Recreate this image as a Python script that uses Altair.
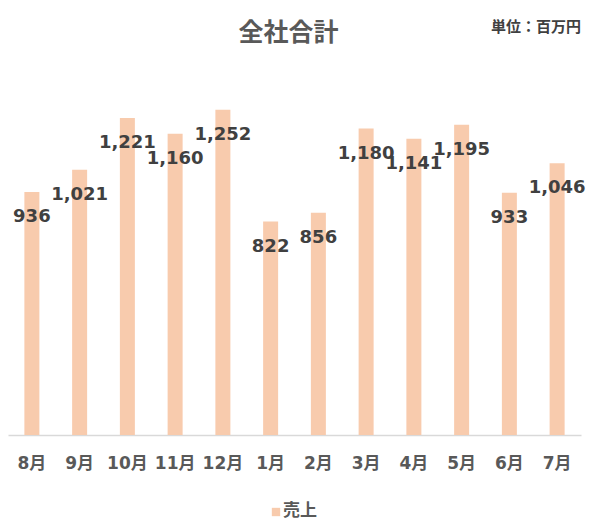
import altair as alt
import pandas as pd

months = ["8月", "9月", "10月", "11月", "12月", "1月", "2月", "3月", "4月", "5月", "6月", "7月"]
sales = [936, 1021, 1221, 1160, 1252, 822, 856, 1180, 1141, 1195, 933, 1046]
title_text = "全社合計"
unit_text = "単位：百万円"
legend_text = "売上"

df = pd.DataFrame({"month": months, "sales": sales})

FONT = "DejaVu Sans, Noto Sans CJK JP"
W, H = 573, 375

x = alt.X("month:N", sort=months, title=None,
          scale=alt.Scale(paddingInner=0.68, paddingOuter=0.34),
          axis=alt.Axis(labelAngle=0, labelFont=FONT, labelFontSize=17, labelFontWeight="bold",
                        labelColor="#595959", labelPadding=20, ticks=False,
                        domainColor="#D9D9D9", domainWidth=1.5))
y = alt.Y("sales:Q", title=None, scale=alt.Scale(domain=[0, 1444], nice=False), axis=None)

base = alt.Chart(df)
bars = base.mark_bar(color="#F8CBAD", size=15).encode(x=x, y=y)
labels = base.mark_text(font=FONT, fontSize=18, fontWeight="bold", color="#404040",
                        baseline="middle", dy=25).encode(
    x=x, y=y, text=alt.Text("sales:Q", format=","))

tdf = pd.DataFrame({"t": [title_text]})
title = alt.Chart(tdf).mark_text(font="Noto Sans CJK JP", fontSize=25, fontWeight="bold",
                                 color="#595959", align="center", baseline="middle").encode(
    x=alt.value(W / 2 - 6), y=alt.value(-27), text="t:N")

udf = pd.DataFrame({"t": [unit_text]})
unit = alt.Chart(udf).mark_text(font="Noto Sans CJK JP", fontSize=15, fontWeight="bold",
                                color="#404040", align="right", baseline="middle").encode(
    x=alt.value(W), y=alt.value(-33), text="t:N")

ldf = pd.DataFrame({"t": [legend_text]})
lsq = alt.Chart(ldf).mark_square(color="#F8CBAD", size=70, opacity=1).encode(
    x=alt.value(268), y=alt.value(H + 77))
ltxt = alt.Chart(ldf).mark_text(font="Noto Sans CJK JP", fontSize=17, fontWeight="bold",
                                color="#595959", align="left", baseline="middle").encode(
    x=alt.value(275), y=alt.value(H + 76), text="t:N")

chart = alt.layer(bars, labels, title, unit, lsq, ltxt).properties(
    width=W, height=H,
    background="white",
    autosize=alt.AutoSizeParams(type="none"),
    padding={"left": 0, "top": 52, "right": 6, "bottom": 96},
).configure_view(stroke=None)

chart.save("out.html", embed_options={"renderer": "svg", "actions": False})
